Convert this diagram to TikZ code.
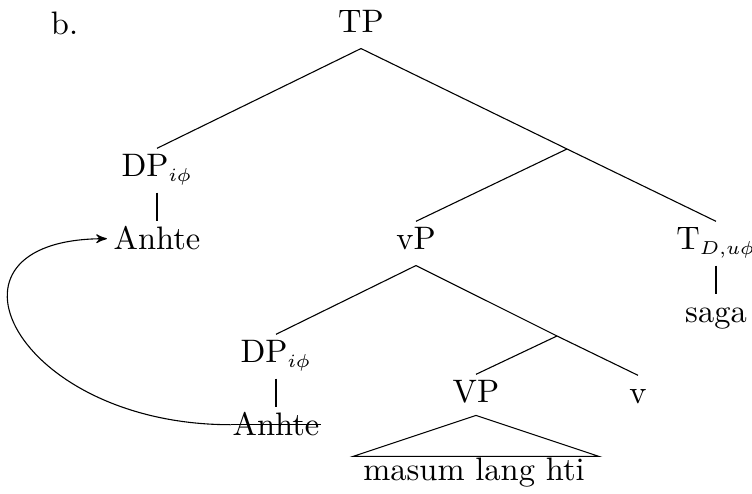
\documentclass[tikz,border=0pt]{standalone}
\DeclareMathSizes{10.4}{10.4}{6.2}{5}
\usetikzlibrary{arrows}
\usetikzlibrary{positioning}

\begin{document}
\begin{tikzpicture}[x=0.32pt,y=-0.32pt,line width=0.35pt,
  every node/.style={font=\fontsize{10.4}{12.5}\selectfont},
  cat/.style={anchor=base,inner sep=2pt,text height=7pt,text depth=2.8pt},
  word/.style={cat,below=9pt of #1}]
  \useasboundingbox (0,0) rectangle (752,494);

  \node[anchor=base west] (lbl) at (40,35) {b.};

  \node[cat] (tp) at (361,33) {TP};
  \node[cat] (dp1) at (157,177) {DP$_{i\phi}$};
  \coordinate (tbar) at (567,149);
  \node[cat] (vp) at (416,250) {vP};
  \node[cat] (t) at (716,250) {T$_{D,u\phi}$};
  \node[cat] (dp2) at (276,363) {DP$_{i\phi}$};
  \coordinate (vbar) at (557,336);
  \node[cat] (VP) at (476,403) {VP};
  \node[cat] (v) at (638,404) {v};

  \node[word=dp1] (anhte1) {Anhte};
  \node[word=dp2] (anhte2) {Anhte};
  \node[word=t] (saga) {saga};
  \node[cat] (masum) at (474,481) {masum lang hti};

  \draw (tp.south) -- (dp1.north);
  \draw (tp.south) -- (tbar) -- (t.north);
  \draw (tbar) -- (vp.north);
  \draw (dp1.south) -- (anhte1.north);
  \draw (t.south) -- (saga.north);
  \draw (vp.south) -- (dp2.north);
  \draw (vp.south) -- (vbar) -- (v.north);
  \draw (vbar) -- (VP.north);
  \draw (dp2.south) -- (anhte2.north);
  \draw ([yshift=1pt]VP.south) -- ++(-123,41) -- ++(246,0) -- cycle;

  % trace struck out
  \draw ([xshift=1.5pt,yshift=1.3pt]anhte2.west) -- ([xshift=-1.5pt,yshift=1.3pt]anhte2.east);
  \draw[->,>=stealth'] ([xshift=1.5pt,yshift=1.3pt]anhte2.west)
    .. controls +(-215,0) and +(-185,0) .. ([yshift=1.3pt]anhte1.west);
\end{tikzpicture}
\end{document}
